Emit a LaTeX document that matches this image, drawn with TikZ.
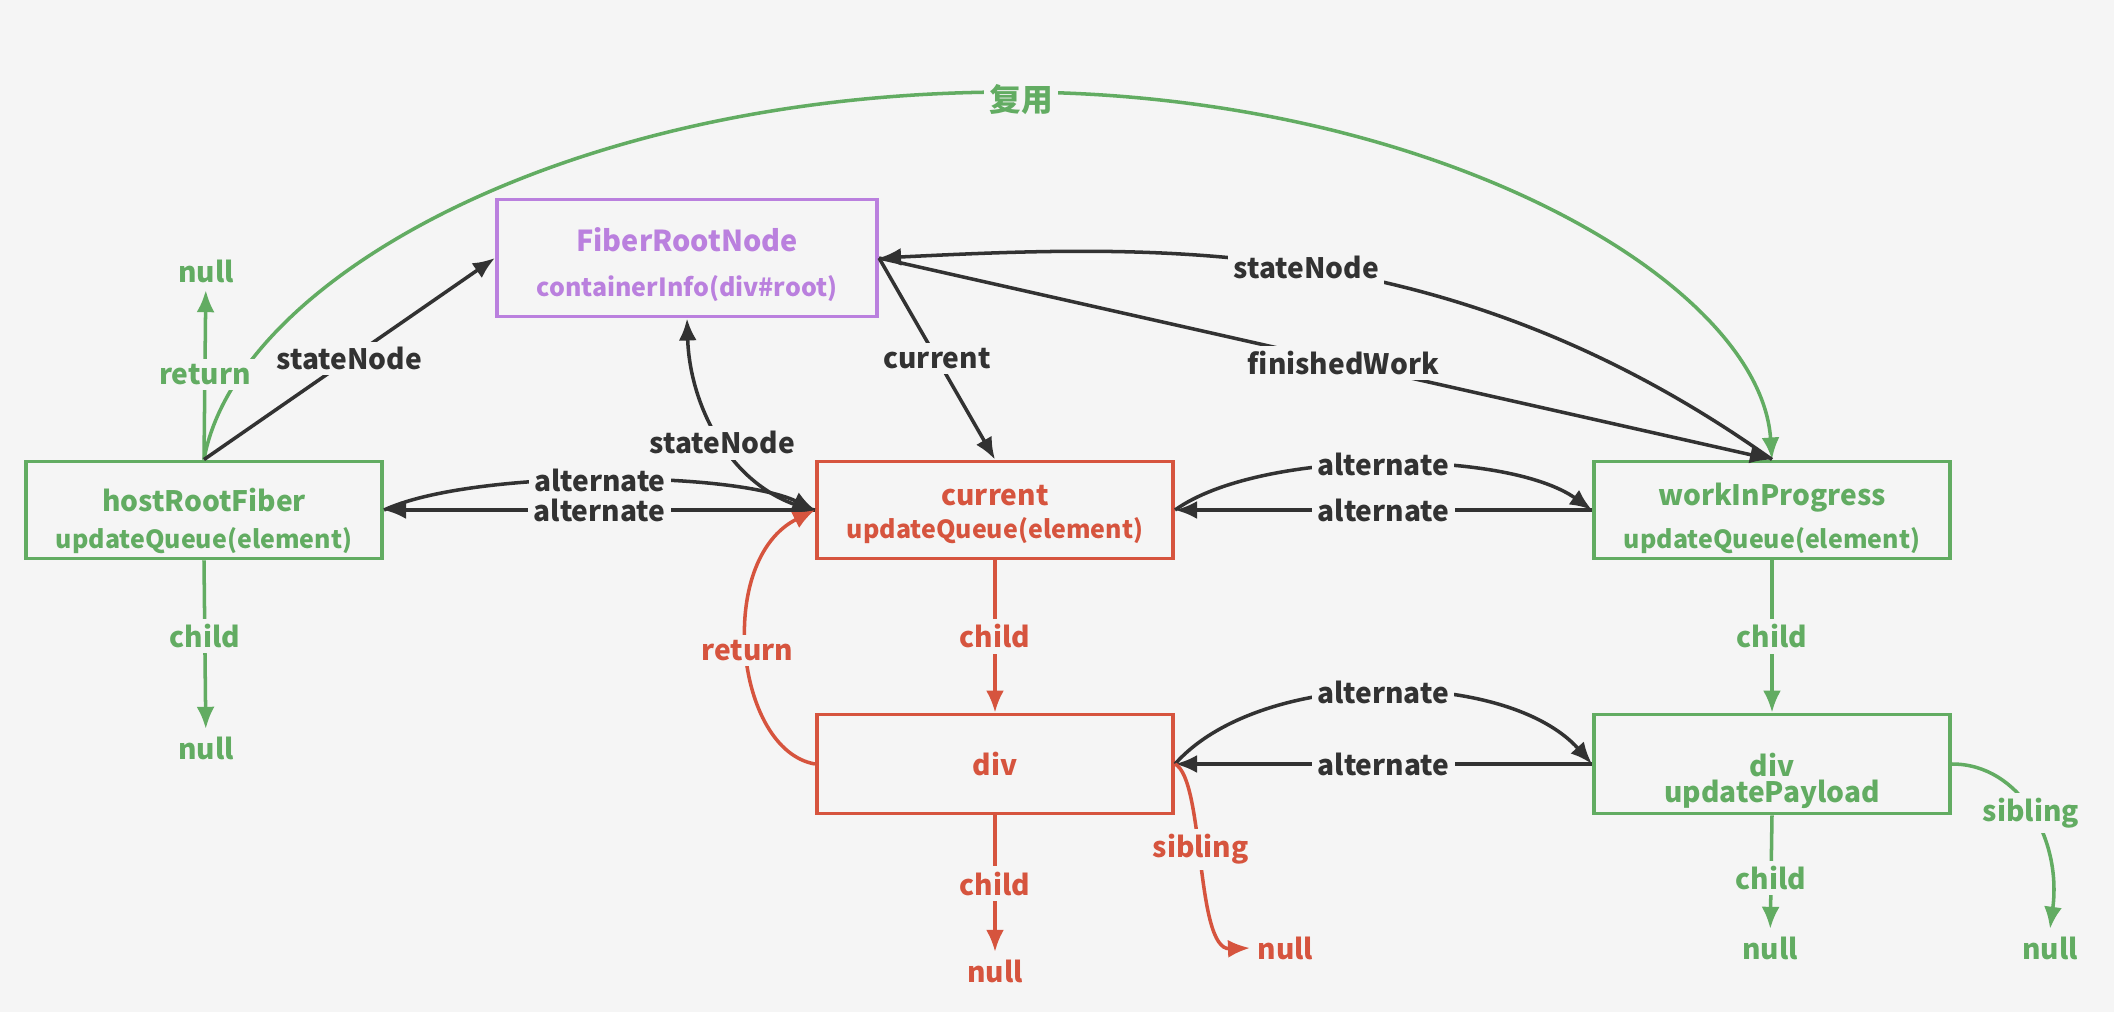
\documentclass[tikz,border=0pt]{standalone}
\usepackage{fontspec}
\setmainfont{Noto Sans CJK SC}
\usepackage{xcolor}
\usetikzlibrary{arrows.meta}

\definecolor{bgcol}{RGB}{245,245,245}
\definecolor{fgreen}{RGB}{98,172,98}
\definecolor{fred}{RGB}{214,84,62}
\definecolor{fpurple}{RGB}{186,128,222}
\definecolor{fdark}{RGB}{50,50,50}

\tikzset{
  fiberbox/.style={draw, line width=1.1pt, minimum width=3.56cm, minimum height=0.97cm, align=center, inner sep=0pt},
  link/.style={draw=fdark, line width=1pt, -{Latex[length=2.2mm,width=1.8mm]}},
  redlink/.style={link, draw=fred, -{Latex[length=2.2mm,width=1.8mm,color=fred]}},
  greenlink/.style={link, draw=fgreen, -{Latex[length=2.2mm,width=1.8mm,color=fgreen]}},
  lbl/.style={fill=bgcol, inner sep=1.5pt, text=fdark},
  nulltext/.style={inner sep=2pt},
}
\newcommand{\subline}[1]{{\fontsize{7.1}{8}\selectfont #1}}

\begin{document}
\begin{tikzpicture}[x=0.01cm, y=-0.01cm, font=\bfseries\fontsize{8}{10}\selectfont]
  % background and page size
  \fill[bgcol] (0,0) rectangle (2114,1012);
  \useasboundingbox (0,0) rectangle (2114,1012);

  % the fiber boxes
  \node[fiberbox, draw=fpurple, text=fpurple, minimum width=3.8cm, minimum height=1.17cm,
    font=\bfseries\fontsize{8.2}{12.8}\selectfont] (frn) at (687,258)
    {\rule{0pt}{10.5pt}FiberRootNode\\\subline{containerInfo(div\#root)}};
  \node[fiberbox, draw=fgreen, text=fgreen, font=\bfseries\fontsize{8}{10.5}\selectfont] (host) at (204,510)
    {\rule{0pt}{13pt}hostRootFiber\\\subline{updateQueue(element)}};
  \node[fiberbox, draw=fred, text=fred, font=\bfseries\fontsize{8}{9.4}\selectfont] (cur) at (995,510)
    {\rule{0pt}{8.5pt}current\\\subline{updateQueue(element)}};
  \node[fiberbox, draw=fgreen, text=fgreen, font=\bfseries\fontsize{8}{12.2}\selectfont] (wip) at (1772,510)
    {\rule{0pt}{11.3pt}workInProgress\\\subline{updateQueue(element)}};
  \node[fiberbox, draw=fred, text=fred, minimum height=0.99cm] (rdiv) at (995,764) {div};
  \node[fiberbox, draw=fgreen, text=fgreen, minimum height=0.99cm, font=\bfseries\fontsize{8}{6.3}\selectfont] (gdiv) at (1772,764)
    {\rule{0pt}{16.4pt}div\\updatePayload};

  % null ends
  \node[nulltext, text=fgreen] (hnull1) at (206,271) {null};
  \node[nulltext, text=fgreen] (hnull2) at (206,748) {null};
  \node[nulltext, text=fred] (rnull1) at (995,971) {null};
  \node[nulltext, text=fred, anchor=west] (rnull2) at (1250,948) {null};
  \node[nulltext, text=fgreen] (gnull1) at (1770,948) {null};
  \node[nulltext, text=fgreen] (gnull2) at (2050,948) {null};

  % reuse arc
  \draw[greenlink] (host.north) .. controls (236,280) and (567,92) .. (1011,92)
    .. controls (1431,92) and (1760,280) .. (wip.north);
  \node[lbl, text=fgreen, font=\bfseries\fontsize{9}{10}\selectfont] (reuse) at (1021,100) {复用};

  % hostRootFiber links
  \draw[greenlink] (host.north) -- node[lbl, text=fgreen] {return} (hnull1);
  \draw[greenlink] (host.south) -- node[lbl, text=fgreen, pos=0.45] {child} (hnull2);
  \draw[link] (host.north) -- node[lbl] {stateNode} (frn.west);

  % FiberRootNode links
  \draw[link] (cur.west) .. controls (735,495) and (690,410) .. node[lbl, pos=0.5] {stateNode} (frn.south);
  \draw[link] (frn.east) -- node[lbl] {current} (cur.north);
  \draw[link] (wip.north) .. controls (1450,230) and (1150,245) .. node[lbl] {stateNode} (frn.east);
  \draw[link] (frn.east) -- node[lbl, pos=0.52] {finishedWork} (wip.north);

  % alternate pairs
  \draw[link] (host.east) .. controls (470,470) and (730,470) .. node[lbl] {alternate} (cur.west);
  \draw[link] (cur.west) -- node[lbl] {alternate} (host.east);
  \draw[link] (cur.east) .. controls (1260,449) and (1506,449) .. node[lbl] {alternate} (wip.west);
  \draw[link] (wip.west) -- node[lbl] {alternate} (cur.east);
  \draw[link] (rdiv.east) .. controls (1260,668) and (1506,668) .. node[lbl] {alternate} (gdiv.west);
  \draw[link] (gdiv.west) -- node[lbl] {alternate} (rdiv.east);

  % current tree
  \draw[redlink] (cur.south) -- node[lbl, text=fred] {child} (rdiv.north);
  \draw[redlink] (rdiv.south) -- node[lbl, text=fred] {child} (rnull1);
  \draw[redlink] (rdiv.west) .. controls (735,750) and (715,560) .. node[lbl, text=fred] {return} (cur.west);
  \draw[redlink] (rdiv.east) .. controls (1205,780) and (1195,950) .. node[lbl, text=fred, pos=0.45] {sibling} (rnull2.west);

  % workInProgress tree
  \draw[greenlink] (wip.south) -- node[lbl, text=fgreen] {child} (gdiv.north);
  \draw[greenlink] (gdiv.south) -- node[lbl, text=fgreen, pos=0.55] {child} (gnull1);
  \draw[greenlink] (gdiv.east) .. controls (2020,764) and (2062,840) .. node[lbl, text=fgreen] {sibling} (gnull2.north);
\end{tikzpicture}
\end{document}
